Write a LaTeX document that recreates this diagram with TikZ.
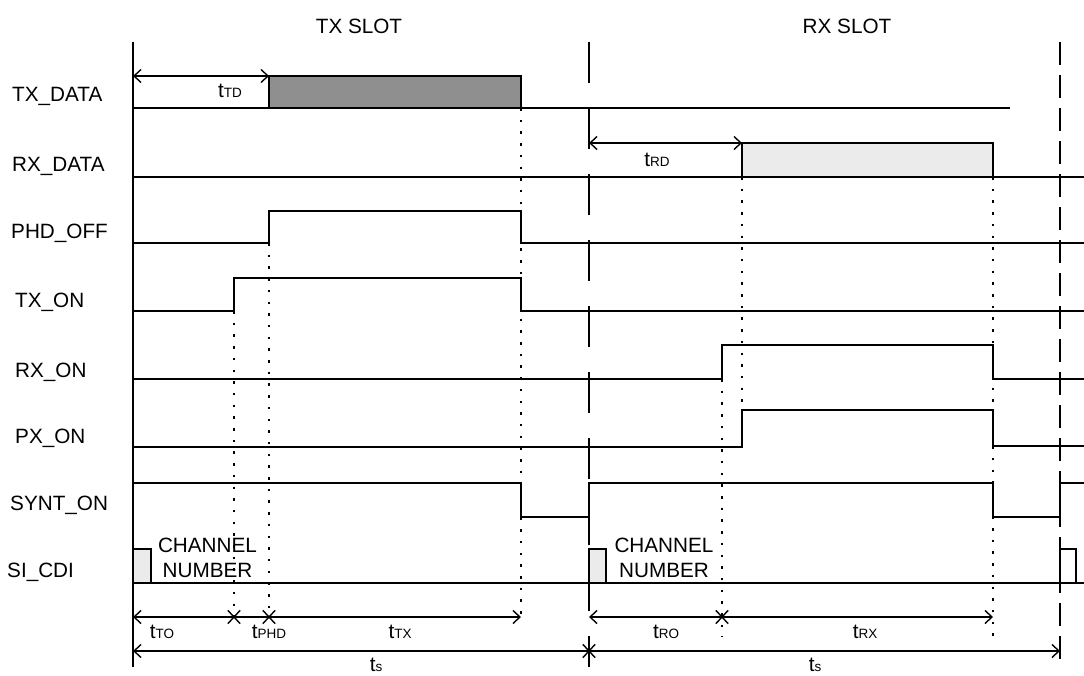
\documentclass[tikz,border=0pt]{standalone}
\usepackage{fontspec}
\setmainfont{Liberation Sans}
\usetikzlibrary{arrows.meta,shapes.misc}
\definecolor{txgray}{RGB}{143,143,143}
\definecolor{rxgray}{RGB}{235,235,235}
\newcommand{\tsub}[1]{t{\fontsize{13.5}{14}\selectfont #1}}

\begin{document}
\begin{tikzpicture}[x=1pt,y=-1pt,
    sig/.style={line width=1.8pt},
    dotv/.style={line width=2pt,dash pattern=on 2.5pt off 9.2pt},
    slotA/.style={line width=1.8pt,dash pattern=on 41pt off 25pt},
    slotB/.style={line width=1.8pt,dash pattern=on 23pt off 10pt},
    dim/.style={line width=1.4pt,{Straight Barb[length=7pt,width=13pt]}-{Straight Barb[length=7pt,width=13pt]}},
    xmark/.style={cross out,draw,line width=1.4pt,minimum width=11pt,minimum height=12pt,inner sep=0pt},
    lbl/.style={font=\fontsize{20.7}{24}\selectfont,inner sep=0pt}]
  \useasboundingbox (0,0) rectangle (1084,675);
  %%% signal names
  \node[lbl,anchor=base west] (nTxData) at (12,101) {TX\_DATA};
  \node[lbl,anchor=base west] (nRxData) at (12,171) {RX\_DATA};
  \node[lbl,anchor=base west] (nPhdOff) at (11,238) {PHD\_OFF};
  \node[lbl,anchor=base west] (nTxOn) at (15,307) {TX\_ON};
  \node[lbl,anchor=base west] (nRxOn) at (15,377) {RX\_ON};
  \node[lbl,anchor=base west] (nPxOn) at (15,443) {PX\_ON};
  \node[lbl,anchor=base west] (nSyntOn) at (10,510) {SYNT\_ON};
  \node[lbl,anchor=base west] (nSiCdi) at (7,577) {SI\_CDI};
  \node[lbl,anchor=base] (nTxSlot) at (359,33) {TX SLOT};
  \node[lbl,anchor=base] (nRxSlot) at (847,33) {RX SLOT};
  %%% slot borders
  \draw[line width=1.8pt] (133,42) -- (133,667);
  \draw[slotA] (589,42) -- (589,667);
  \draw[slotB] (1060,42) -- (1060,667);
  %%% dotted guides
  \draw[dotv] (234,311) -- (234,617);
  \draw[dotv] (269,243) -- (269,617);
  \draw[dotv] (521,108) -- (521,617);
  \draw[dotv] (742,177) -- (742,410);
  \draw[dotv] (722,379) -- (722,637);
  \draw[dotv] (993,177) -- (993,637);
  %%% TX_DATA
  \draw[sig] (133,108) -- (1010,108);
  \draw[sig,fill=txgray] (269,108) rectangle (521,76);
  \coordinate (aTD) at (133,76);
  \coordinate (bTD) at (269,76);
  \draw[dim] (aTD) -- (bTD);
  \node[lbl,anchor=base] (nTD) at (230,97) {\tsub{TD}};
  %%% RX_DATA
  \draw[sig] (133,177) -- (1084,177);
  \draw[sig,fill=rxgray] (742,177) rectangle (993,143);
  \coordinate (aRD) at (589,143);
  \coordinate (bRD) at (742,143);
  \draw[dim] (aRD) -- (bRD);
  \node[lbl,anchor=base] (nRD) at (657,166) {\tsub{RD}};
  %%% PHD_OFF
  \draw[sig] (133,243) -- (269,243) -- (269,211) -- (521,211) -- (521,243) -- (1084,243);
  %%% TX_ON
  \draw[sig] (133,311) -- (234,311) -- (234,278) -- (521,278) -- (521,311) -- (1084,311);
  %%% RX_ON
  \draw[sig] (133,379) -- (722,379) -- (722,345) -- (993,345) -- (993,379) -- (1084,379);
  %%% PX_ON
  \draw[sig] (133,447) -- (742,447) -- (742,410) -- (993,410) -- (993,446) -- (1084,446);
  %%% SYNT_ON
  \draw[sig] (133,483) -- (521,483) -- (521,517) -- (589,517) -- (589,483) -- (993,483)
    -- (993,517) -- (1060,517) -- (1060,483) -- (1084,483);
  %%% SI_CDI
  \draw[sig] (133,583) -- (1084,583);
  \draw[sig,fill=rxgray] (133,583) rectangle (151,549);
  \draw[sig,fill=rxgray] (589,583) rectangle (606,549);
  \draw[sig] (1060,583) -- (1060,549) -- (1076,549) -- (1076,583);
  \node[lbl,anchor=base] (nCh1) at (207.5,552) {CHANNEL};
  \node[lbl,anchor=base] (nNum1) at (207.5,577) {NUMBER};
  \node[lbl,anchor=base] (nCh2) at (664,552) {CHANNEL};
  \node[lbl,anchor=base] (nNum2) at (664,577) {NUMBER};
  %%% timing, first row
  \coordinate (r1a) at (133,617);
  \coordinate (r1d) at (521,617);
  \coordinate (r1e) at (589,617);
  \coordinate (r1g) at (993,617);
  \draw[dim] (r1a) -- (r1d);
  \draw[dim] (r1e) -- (r1g);
  \node[xmark] (xTO) at (234,617) {};
  \node[xmark] (xPHD) at (269,617) {};
  \node[xmark] (xRO) at (722,617) {};
  \node[lbl,anchor=base] (nTO) at (162,638) {\tsub{TO}};
  \node[lbl,anchor=base] (nPHD) at (269,638) {\tsub{PHD}};
  \node[lbl,anchor=base] (nTX) at (400,638) {\tsub{TX}};
  \node[lbl,anchor=base] (nRO) at (666,638) {\tsub{RO}};
  \node[lbl,anchor=base] (nRX) at (865,638) {\tsub{RX}};
  %%% timing, second row
  \coordinate (r2a) at (133,651);
  \coordinate (r2c) at (1060,651);
  \draw[dim] (r2a) -- (r2c);
  \node[xmark] (xS) at (589,651) {};
  \node[lbl,anchor=base] (nS1) at (376,671) {\tsub{s}};
  \node[lbl,anchor=base] (nS2) at (815,671) {\tsub{s}};
\end{tikzpicture}
\end{document}
